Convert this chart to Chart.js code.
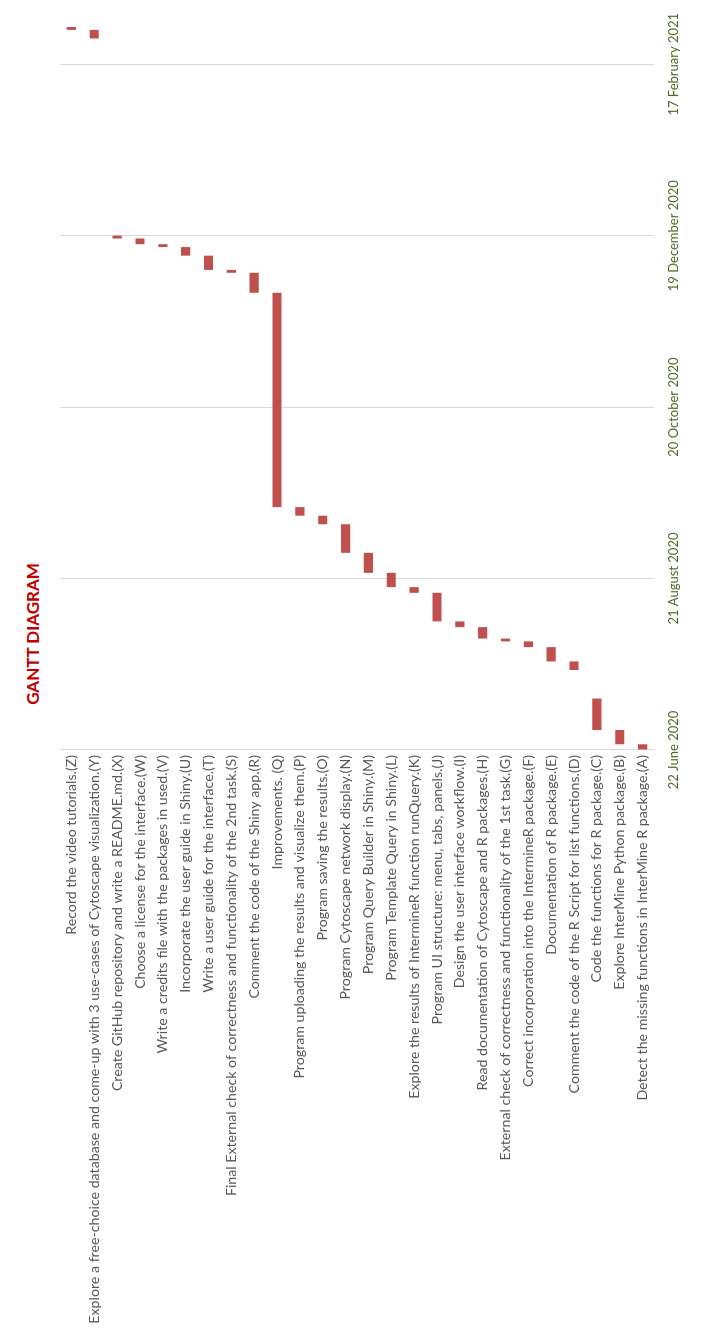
<!DOCTYPE html>
<html>
<head>
<meta charset="utf-8">
<title>Gantt Diagram</title>
<script src="https://cdn.jsdelivr.net/npm/chart.js@4.4.1/dist/chart.umd.min.js"></script>
<style>
  html, body { margin: 0; padding: 0; background: #fff; overflow: hidden; }
  #page { position: relative; width: 722px; height: 1329px; }
  /* chart is drawn landscape, then turned to read bottom-to-top */
  #rotated {
    position: absolute; left: 0; top: 0; width: 1329px; height: 722px;
    transform-origin: 0 0; transform: translate(0, 1329px) rotate(-90deg);
  }
  #title {
    position: absolute; top: 22px; left: 595px; width: 200px; text-align: center;
    font: bold 17px Lato, sans-serif; line-height: 22px; color: #C00000;
  }
  canvas { position: absolute; left: 0; top: 0; }
</style>
</head>
<body>
<div id="page">
  <div id="rotated">
    <div id="title">GANTT DIAGRAM</div>
    <canvas id="gantt" width="1329" height="722"></canvas>
  </div>
</div>
<script>
// ===== Tasks (A..Z) =====
const taskNames = [
  "Detect the missing functions in InterMine R package.(A)",
  "Explore InterMine Python package.(B)",
  "Code the functions for R package.(C)",
  "Comment the code of the R Script for list functions.(D)",
  "Documentation of R package.(E)",
  "Correct incorporation into the IntermineR package.(F)",
  "External check of correctness and functionality of the 1st task.(G)",
  "Read documentation of Cytoscape and R packages.(H)",
  "Design the user interface workflow.(I)",
  "Program UI structure: menu, tabs, panels.(J)",
  "Explore the results of IntermineR function runQuery.(K)",
  "Program Template Query in Shiny.(L)",
  "Program Query Builder in Shiny.(M)",
  "Program Cytoscape network display.(N)",
  "Program saving the results.(O)",
  "Program uploading the results and visualize them.(P)",
  "Improvements. (Q)",
  "Comment the code of the Shiny app.(R)",
  "Final External check of correctness and functionality of the 2nd task.(S)",
  "Write a user guide for the interface.(T)",
  "Incorporate the user guide in Shiny.(U)",
  "Write a credits file with the packages in used.(V)",
  "Choose a license for the interface.(W)",
  "Create GitHub repository and write a README.md.(X)",
  "Explore a free-choice database and come-up with 3 use-cases of Cytoscape visualization.(Y)",
  "Record the video tutorials.(Z)"
];

const startDates = [
  "2020-06-22", "2020-06-24", "2020-06-29", "2020-07-20", "2020-07-23",
  "2020-07-28", "2020-07-30", "2020-07-31", "2020-08-04", "2020-08-06",
  "2020-08-16", "2020-08-18", "2020-08-23", "2020-08-30", "2020-09-09",
  "2020-09-12", "2020-09-15", "2020-11-29", "2020-12-06", "2020-12-07",
  "2020-12-12", "2020-12-15", "2020-12-16", "2020-12-18", "2021-02-26",
  "2021-03-01"
];

const durationDays = [
  2, 5, 11, 3, 5,
  2, 1, 4, 2, 10,
  2, 5, 7, 10, 3,
  3, 75, 7, 1, 5,
  3, 1, 2, 1, 3,
  1
];

// ===== Axis ticks =====
const tickDates = ["2020-06-22", "2020-08-21", "2020-10-20", "2020-12-19", "2021-02-17"];
const monthNames = ["January", "February", "March", "April", "May", "June",
  "July", "August", "September", "October", "November", "December"];
const axisEndDate = "2021-03-07";

// ===== Helpers =====
const DAY = 86400000;
function dayOffset(d) {
    return (Date.parse(d) - Date.parse(tickDates[0])) / DAY;
}
function formatDay(v) {
    const d = new Date(Date.parse(tickDates[0]) + v * DAY);
    return d.getUTCDate() + ' ' + monthNames[d.getUTCMonth()] + ' ' + d.getUTCFullYear();
}

const bars = startDates.map((s, i) => [dayOffset(s), dayOffset(s) + durationDays[i]]);

new Chart(document.getElementById('gantt'), {
    type: 'bar',
    data: {
        labels: taskNames,
        datasets: [{
            data: bars,
            backgroundColor: '#C0504D',
            borderWidth: 0,
            barPercentage: 0.4,
            categoryPercentage: 1.0
        }]
    },
    options: {
        indexAxis: 'y',
        responsive: false,
        animation: false,
        layout: { padding: { top: 60, right: 12, left: 0, bottom: 0 } },
        plugins: {
            legend: { display: false },
            tooltip: { enabled: false }
        },
        scales: {
            x: {
                type: 'linear',
                position: 'bottom',
                min: 0,
                max: dayOffset(axisEndDate),
                grid: { color: '#D9D9D9', lineWidth: 1, drawTicks: false },
                border: { display: false },
                afterBuildTicks: scale => {
                    scale.ticks = tickDates.map(d => ({ value: dayOffset(d) }));
                },
                afterFit: scale => { scale.height = 68; },
                ticks: {
                    color: '#4F6B2B',
                    font: { family: 'Lato', size: 13 },
                    padding: 12,
                    maxRotation: 0,
                    callback: v => formatDay(v)
                }
            },
            y: {
                reverse: true,
                grid: { display: false, drawTicks: false },
                border: { display: false },
                afterFit: scale => { scale.width = 579; },
                ticks: {
                    color: '#595959',
                    font: { family: 'Lato', size: 14.2 },
                    padding: 5,
                    autoSkip: false
                }
            }
        }
    }
});
</script>
</body>
</html>
